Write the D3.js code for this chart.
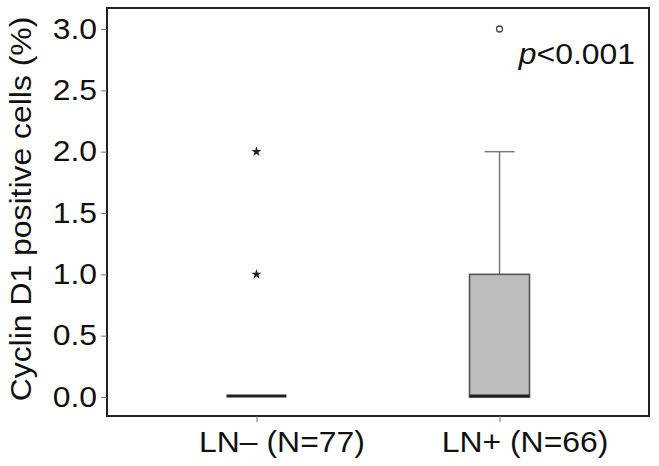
<!DOCTYPE html>
<html>
<head>
<meta charset="utf-8">
<script src="https://cdn.jsdelivr.net/npm/d3@7"></script>
<style>
  body { margin: 0; background: #fff; }
  svg text { font-family: "Liberation Sans", Arial, sans-serif; fill: #111; }
</style>
</head>
<body>
<svg id="chart" width="659" height="466"></svg>
<script>
const groups = ["LN\u2013 (N=77)", "LN+ (N=66)"];
const q1 = [0, 0];
const median = [0, 0];
const q3 = [0, 1];
const whiskerLow = [0, 0];
const whiskerHigh = [0, 2];
// SPSS style: stars are extreme values, circles are outliers
const extremes = [[1, 2], []];
const outliers = [[], [3]];
const yTicks = [0, 0.5, 1, 1.5, 2, 2.5, 3];

const svg = d3.select("#chart");
const width = 659, height = 466;
const margin = { top: 8, right: 10, bottom: 50, left: 107 };
const x0 = margin.left, x1 = width - margin.right;
const yTop = margin.top, yBot = height - margin.bottom;
const fs = 29, stretch = 1.1;

// the reference type is a bit wider than Arial at the same height
function widen(sel) {
  sel.each(function () {
    const w = this.getComputedTextLength();
    d3.select(this).attr("textLength", w * stretch).attr("lengthAdjust", "spacingAndGlyphs");
  });
}

const x = d3.scalePoint()
  .domain(groups)
  .range([x0, x1])
  .padding(0.615);

const y = d3.scaleLinear()
  .domain([0, 3])
  .range([397, 29]);

const boxW = 60;

groups.forEach((g, i) => {
  const cx = x(g);
  if (whiskerHigh[i] > q3[i]) {
    svg.append("line")
      .attr("x1", cx).attr("x2", cx)
      .attr("y1", y(q3[i])).attr("y2", y(whiskerHigh[i]))
      .attr("stroke", "#777").attr("stroke-width", 1.5);
    svg.append("line")
      .attr("x1", cx - 15).attr("x2", cx + 15)
      .attr("y1", y(whiskerHigh[i])).attr("y2", y(whiskerHigh[i]))
      .attr("stroke", "#777").attr("stroke-width", 1.5);
  }
  if (q3[i] > q1[i]) {
    svg.append("rect")
      .attr("x", cx - boxW / 2)
      .attr("y", y(q3[i]))
      .attr("width", boxW)
      .attr("height", y(q1[i]) - y(q3[i]))
      .attr("fill", "#bdbdbd")
      .attr("stroke", "#555")
      .attr("stroke-width", 1.6);
  }
  svg.append("line")
    .attr("x1", cx - boxW / 2).attr("x2", cx + boxW / 2)
    .attr("y1", y(median[i]) - 1).attr("y2", y(median[i]) - 1)
    .attr("stroke", "#222").attr("stroke-width", 3);

  svg.selectAll(null)
    .data(extremes[i])
    .join("path")
    .attr("transform", d => `translate(${cx},${y(d)})`)
    .attr("d", d3.symbol(d3.symbolStar, 32))
    .attr("fill", "#222");

  svg.selectAll(null)
    .data(outliers[i])
    .join("circle")
    .attr("cx", cx)
    .attr("cy", d => y(d))
    .attr("r", 3)
    .attr("fill", "none")
    .attr("stroke", "#444")
    .attr("stroke-width", 1.3);
});

// frame
svg.append("rect")
  .attr("x", x0).attr("y", yTop)
  .attr("width", x1 - x0).attr("height", yBot - yTop)
  .attr("fill", "none")
  .attr("stroke", "#222")
  .attr("stroke-width", 2);

// y axis
const yAxis = svg.append("g")
  .attr("transform", `translate(${x0},0)`)
  .call(d3.axisLeft(y).tickValues(yTicks).tickFormat(d3.format(".1f")).tickSize(6).tickPadding(4));
yAxis.select(".domain").remove();
yAxis.selectAll(".tick line").attr("stroke", "#777");
yAxis.selectAll("text").attr("font-size", fs).attr("fill", "#111").call(widen);

// x axis (labels sit a little right of their ticks in the reference)
const xAxis = svg.append("g")
  .attr("transform", `translate(0,${yBot})`)
  .call(d3.axisBottom(x).tickSize(6).tickPadding(9));
xAxis.select(".domain").remove();
xAxis.selectAll(".tick line").attr("stroke", "#777");
xAxis.selectAll("text").attr("font-size", fs).attr("fill", "#111")
  .attr("text-anchor", "middle").attr("dx", 25).call(widen);

// y label
svg.append("text")
  .attr("transform", "translate(31,209) rotate(-90)")
  .attr("text-anchor", "middle")
  .attr("font-size", fs)
  .text("Cyclin D1 positive cells (%)")
  .call(widen);

// p value
const p = svg.append("text")
  .attr("x", 635).attr("y", 64)
  .attr("text-anchor", "end")
  .attr("font-size", fs);
p.append("tspan").attr("font-style", "italic").text("p");
p.append("tspan").text("<0.001");
p.call(widen);
</script>
</body>
</html>
